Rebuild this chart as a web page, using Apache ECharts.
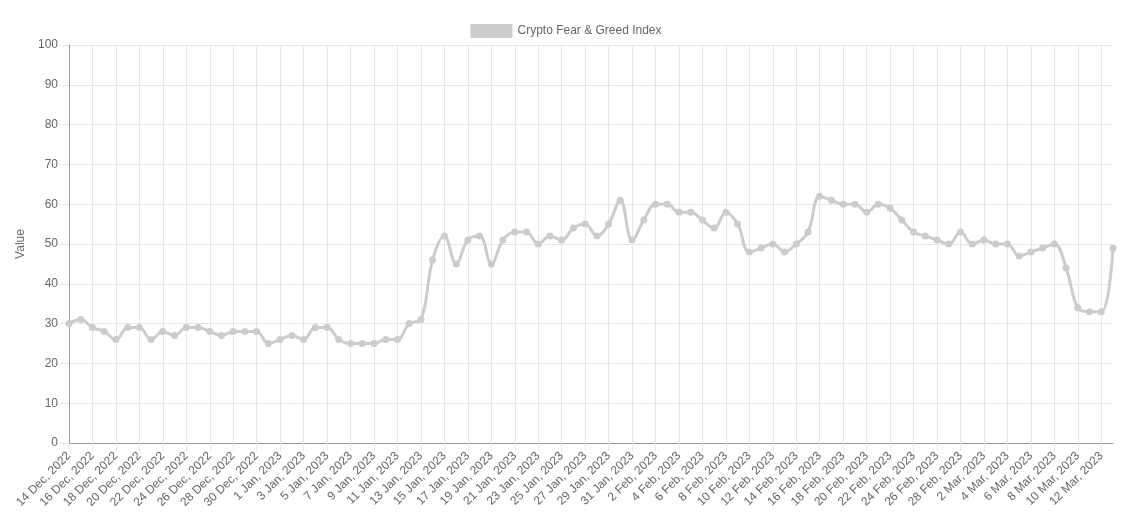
<!DOCTYPE html>
<html>
<head>
<meta charset="utf-8">
<script src="https://cdn.jsdelivr.net/npm/echarts@6/dist/echarts.min.js"></script>
<style>
html,body{margin:0;padding:0;background:#fff;}
#c{width:1132px;height:522px;}
</style>
</head>
<body>
<div id="c"></div>
<script>
const seriesName = 'Crypto Fear & Greed Index';
const categories = [];
(function(){
  const spans = [[14,31,'Dec',2022],[1,31,'Jan',2023],[1,28,'Feb',2023],[1,13,'Mar',2023]];
  spans.forEach(s => { for (let d = s[0]; d <= s[1]; d++) categories.push(d + ' ' + s[2] + ', ' + s[3]); });
})();
const values = [
  30,31,29,28,26,29,29,26,28,27,29,29,28,27,28,28,28,25,
  26,27,26,29,29,26,25,25,25,26,26,30,31,46,52,45,51,52,45,51,53,53,50,52,51,54,55,52,55,61,51,
  56,60,60,58,58,56,54,58,55,48,49,50,48,50,53,62,61,60,60,58,60,59,56,53,52,51,50,53,
  50,51,50,50,47,48,49,50,44,34,33,33,49
];
const yTicks = {min:0, max:100, interval:10};

const gridColor = '#e6e6e6';
const textColor = '#666';
const font = 'Liberation Sans, Arial, sans-serif';

const chart = echarts.init(document.getElementById('c'));
chart.setOption({
  animation: false,
  legend: {
    top: 19, left: 'center',
    icon: 'rect', itemWidth: 42, itemHeight: 14, itemGap: 10,
    textStyle: {color: textColor, fontSize: 12, fontFamily: font},
    data: [seriesName]
  },
  grid: {left: 69, right: 19, top: 45, bottom: 79, containLabel: false},
  xAxis: {
    type: 'category', data: categories, boundaryGap: false,
    axisLine: {lineStyle: {color: '#999', width: 1}},
    axisTick: {show: true, interval: 1, length: 8, lineStyle: {color: gridColor}},
    axisLabel: {interval: 1, rotate: 45, color: textColor, fontSize: 12, fontFamily: font, margin: 11},
    splitLine: {show: true, interval: 1, lineStyle: {color: gridColor}}
  },
  yAxis: {
    type: 'value', min: yTicks.min, max: yTicks.max, interval: yTicks.interval,
    name: 'Value', nameLocation: 'middle', nameGap: 40, nameRotate: 90,
    nameTextStyle: {color: textColor, fontSize: 12, fontFamily: font},
    axisLine: {show: true, lineStyle: {color: '#999', width: 1}},
    axisTick: {show: true, length: 9, lineStyle: {color: gridColor}},
    axisLabel: {color: textColor, fontSize: 12, fontFamily: font, margin: 11},
    splitLine: {show: true, lineStyle: {color: gridColor}}
  },
  series: [{
    name: seriesName, type: 'line', data: values,
    smooth: 0.4,
    symbol: 'circle', symbolSize: 7,
    itemStyle: {color: '#cccccc'},
    lineStyle: {color: '#cccccc', width: 3}
  }]
});
</script>
</body>
</html>
